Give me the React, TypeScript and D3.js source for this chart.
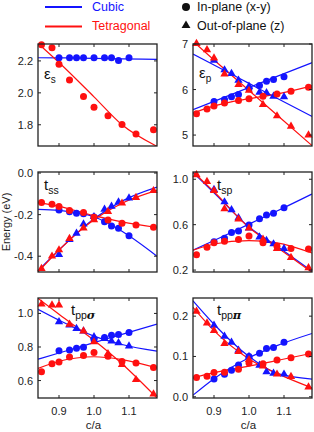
import React from "react";
import * as d3 from "d3";

// c/a values of the computed points
const X_CUBIC = [0.90, 0.93, 0.95, 0.97, 1.00, 1.03, 1.05, 1.07, 1.10];
const X_TETRA = [0.85, 0.88, 0.90, 0.93, 0.97, 1.00, 1.04, 1.08, 1.12, 1.17];
const X_FIT = [0.84, 0.90, 1.00, 1.08, 1.18];
const X_TICKS = [0.9, 1.0, 1.1];
const X_DOMAIN = [0.84, 1.18];

// eps_s
const ES_CUBIC_IN = [2.22, 2.22, 2.22, 2.22, 2.22, 2.22, 2.22, 2.202, 2.22];
const ES_TETRA_IN = [2.302, 2.283, 2.179, 2.081, 1.977, 1.91, 1.856, 1.802, 1.742, 1.769];
const ES_FIT_CUBIC_IN = [2.22, 2.219, 2.216, 2.213, 2.21];
const ES_FIT_TETRA_IN = [2.31, 2.19, 1.975, 1.8, 1.665];

// eps_p
const EP_CUBIC_IN = [5.74, 5.78, 5.84, 5.89, 6.02, 6.09, 6.18, 6.22, 6.28];
const EP_CUBIC_OUT = [6.64, 6.43, 6.35, 6.2, 6.07, 5.94, 5.93, 5.85, 5.84];
const EP_TETRA_IN = [5.47, 5.575, 5.64, 5.705, 5.76, 5.8, 5.85, 5.9, 5.96, 6.05];
const EP_TETRA_OUT = [7.01, 6.87, 6.69, 6.34, 6.11, 5.98, 5.67, 5.42, 5.19, 5.0];
const EP_FIT_CUBIC_IN = [5.56, 5.74, 6.045, 6.29, 6.59];
const EP_FIT_CUBIC_OUT = [6.78, 6.54, 6.135, 5.81, 5.41];
const EP_FIT_TETRA_IN = [5.48, 5.64, 5.8, 5.9, 6.08];
const EP_FIT_TETRA_OUT = [7.06, 6.65, 5.98, 5.44, 4.77];

// t_ss
const TSS_CUBIC_IN = [-0.178, -0.186, -0.194, -0.196, -0.212, -0.234, -0.255, -0.265, -0.302];
const TSS_CUBIC_OUT = [-0.392, -0.32, -0.29, -0.245, -0.21, -0.175, -0.16, -0.14, -0.12];
const TSS_TETRA_IN = [-0.142, -0.15, -0.161, -0.18, -0.19, -0.213, -0.226, -0.242, -0.25, -0.261];
const TSS_TETRA_OUT = [-0.46, -0.4, -0.37, -0.315, -0.265, -0.225, -0.185, -0.145, -0.118, -0.085];
const TSS_FIT_CUBIC_IN = [-0.175, -0.18, -0.21, -0.28, -0.4];
const TSS_FIT_CUBIC_OUT = [-0.47, -0.37, -0.22, -0.135, -0.068];
const TSS_FIT_TETRA_IN = [-0.142, -0.16, -0.205, -0.235, -0.262];
const TSS_FIT_TETRA_OUT = [-0.476, -0.37, -0.225, -0.145, -0.083];

// t_sp
const TSP_CUBIC_IN = [0.45, 0.481, 0.531, 0.545, 0.598, 0.652, 0.686, 0.7, 0.75];
const TSP_CUBIC_OUT = [0.91, 0.8, 0.73, 0.66, 0.57, 0.49, 0.46, 0.43, 0.39];
const TSP_TETRA_IN = [0.335, 0.4, 0.44, 0.455, 0.47, 0.5, 0.44, 0.41, 0.39, 0.385];
const TSP_TETRA_OUT = [1.04, 0.98, 0.9, 0.74, 0.65, 0.57, 0.47, 0.39, 0.31, 0.22];
const TSP_FIT_CUBIC_IN = [0.375, 0.46, 0.605, 0.72, 0.87];
const TSP_FIT_CUBIC_OUT = [1.06, 0.88, 0.58, 0.41, 0.19];
const TSP_FIT_TETRA_IN = [0.375, 0.43, 0.46, 0.44, 0.35];
const TSP_FIT_TETRA_OUT = [1.065, 0.89, 0.575, 0.4, 0.18];

// t_pp sigma
const TPS_CUBIC_IN = [0.777, 0.782, 0.793, 0.798, 0.843, 0.856, 0.87, 0.874, 0.886];
const TPS_CUBIC_OUT = [0.95, 0.93, 0.91, 0.895, 0.86, 0.85, 0.835, 0.825, 0.805];
const TPS_TETRA_IN = [0.652, 0.7, 0.71, 0.74, 0.75, 0.767, 0.745, 0.714, 0.705, 0.678];
const TPS_TETRA_OUT = [1.055, 1.05, 1.05, 0.935, 0.895, 0.83, 0.76, 0.695, 0.605, 0.52];
const TPS_FIT_CUBIC_IN = [0.727, 0.764, 0.826, 0.875, 0.937];
const TPS_FIT_CUBIC_OUT = [1.025, 0.96, 0.865, 0.815, 0.775];
const TPS_FIT_TETRA_IN = [0.672, 0.715, 0.742, 0.725, 0.675];
const TPS_FIT_TETRA_OUT = [1.09, 0.995, 0.84, 0.7, 0.496];

// t_pp pi
const TPP_CUBIC_IN = [0.044, 0.056, 0.066, 0.079, 0.1, 0.108, 0.12, 0.122, 0.135];
const TPP_CUBIC_OUT = [0.177, 0.15, 0.135, 0.115, 0.1, 0.078, 0.062, 0.058, 0.056];
const TPP_TETRA_IN = [0.048, 0.051, 0.06, 0.061, 0.068, 0.084, 0.082, 0.091, 0.097, 0.106];
const TPP_TETRA_OUT = [0.212, 0.183, 0.164, 0.132, 0.112, 0.092, 0.076, 0.056, 0.05, 0.024];
const TPP_FIT_CUBIC_IN = [0.004, 0.045, 0.097, 0.127, 0.157];
const TPP_FIT_CUBIC_OUT = [0.238, 0.18, 0.1, 0.058, 0.044];
const TPP_FIT_TETRA_IN = [0.047, 0.06, 0.076, 0.09, 0.108];
const TPP_FIT_TETRA_OUT = [0.222, 0.164, 0.094, 0.058, 0.022];

const BLUE = "#1414ff";
const RED = "#ff1010";
const FONT = "'Liberation Sans', Arial, sans-serif";

const COLS = [[38, 157], [193, 312]];
const ROWS = [[44, 146], [172, 272], [298, 398]];

const PANELS = [
  {
    id: "es", main: "ε", sub: "s", lx: 44, ly: 79, mainSize: 15, subSize: 10,
    yDomain: [1.667, 2.306], yTicks: [1.8, 2.0, 2.2], dec: 1,
    points: [
      { color: BLUE, shape: "c", xs: X_CUBIC, ys: ES_CUBIC_IN },
      { color: RED, shape: "c", xs: X_TETRA, ys: ES_TETRA_IN },
    ],
    fits: [{ color: BLUE, ys: ES_FIT_CUBIC_IN }, { color: RED, ys: ES_FIT_TETRA_IN }],
  },
  {
    id: "ep", main: "ε", sub: "p", lx: 199, ly: 78, mainSize: 15, subSize: 10,
    yDomain: [4.76, 7.0], yTicks: [5, 6, 7], dec: 0,
    points: [
      { color: BLUE, shape: "c", xs: X_CUBIC, ys: EP_CUBIC_IN },
      { color: BLUE, shape: "t", xs: X_CUBIC, ys: EP_CUBIC_OUT },
      { color: RED, shape: "c", xs: X_TETRA, ys: EP_TETRA_IN },
      { color: RED, shape: "t", xs: X_TETRA, ys: EP_TETRA_OUT },
    ],
    fits: [
      { color: BLUE, ys: EP_FIT_CUBIC_IN }, { color: BLUE, ys: EP_FIT_CUBIC_OUT },
      { color: RED, ys: EP_FIT_TETRA_IN }, { color: RED, ys: EP_FIT_TETRA_OUT },
    ],
  },
  {
    id: "tss", main: "t", sub: "ss", lx: 44, ly: 190, mainSize: 15, subSize: 10.5,
    yDomain: [-0.476, 0.005], yTicks: [0, -0.2, -0.4], dec: 1,
    points: [
      { color: BLUE, shape: "c", xs: X_CUBIC, ys: TSS_CUBIC_IN },
      { color: BLUE, shape: "t", xs: X_CUBIC, ys: TSS_CUBIC_OUT },
      { color: RED, shape: "c", xs: X_TETRA, ys: TSS_TETRA_IN },
      { color: RED, shape: "t", xs: X_TETRA, ys: TSS_TETRA_OUT },
    ],
    fits: [
      { color: BLUE, ys: TSS_FIT_CUBIC_IN }, { color: BLUE, ys: TSS_FIT_CUBIC_OUT },
      { color: RED, ys: TSS_FIT_TETRA_IN }, { color: RED, ys: TSS_FIT_TETRA_OUT },
    ],
  },
  {
    id: "tsp", main: "t", sub: "sp", lx: 217, ly: 190, mainSize: 15, subSize: 10.5,
    yDomain: [0.183, 1.064], yTicks: [0.2, 0.6, 1.0], dec: 1,
    points: [
      { color: BLUE, shape: "c", xs: X_CUBIC, ys: TSP_CUBIC_IN },
      { color: BLUE, shape: "t", xs: X_CUBIC, ys: TSP_CUBIC_OUT },
      { color: RED, shape: "c", xs: X_TETRA, ys: TSP_TETRA_IN },
      { color: RED, shape: "t", xs: X_TETRA, ys: TSP_TETRA_OUT },
    ],
    fits: [
      { color: BLUE, ys: TSP_FIT_CUBIC_IN }, { color: BLUE, ys: TSP_FIT_CUBIC_OUT },
      { color: RED, ys: TSP_FIT_TETRA_IN }, { color: RED, ys: TSP_FIT_TETRA_OUT },
    ],
  },
  {
    id: "tps", main: "t", sub: "pp", greek: "σ", lx: 71, ly: 315, mainSize: 15, subSize: 10.5,
    yDomain: [0.496, 1.092], yTicks: [0.6, 0.8, 1.0], dec: 1,
    points: [
      { color: BLUE, shape: "c", xs: X_CUBIC, ys: TPS_CUBIC_IN },
      { color: BLUE, shape: "t", xs: X_CUBIC, ys: TPS_CUBIC_OUT },
      { color: RED, shape: "c", xs: X_TETRA, ys: TPS_TETRA_IN },
      { color: RED, shape: "t", xs: X_TETRA, ys: TPS_TETRA_OUT },
    ],
    fits: [
      { color: BLUE, ys: TPS_FIT_CUBIC_IN }, { color: BLUE, ys: TPS_FIT_CUBIC_OUT },
      { color: RED, ys: TPS_FIT_TETRA_IN }, { color: RED, ys: TPS_FIT_TETRA_OUT },
    ],
  },
  {
    id: "tpp", main: "t", sub: "pp", greek: "π", lx: 217, ly: 315, mainSize: 15, subSize: 10.5,
    yDomain: [-0.003, 0.245], yTicks: [0, 0.1, 0.2], dec: 1,
    points: [
      { color: BLUE, shape: "c", xs: X_CUBIC, ys: TPP_CUBIC_IN },
      { color: BLUE, shape: "t", xs: X_CUBIC, ys: TPP_CUBIC_OUT },
      { color: RED, shape: "c", xs: X_TETRA, ys: TPP_TETRA_IN },
      { color: RED, shape: "t", xs: X_TETRA, ys: TPP_TETRA_OUT },
    ],
    fits: [
      { color: BLUE, ys: TPP_FIT_CUBIC_IN }, { color: BLUE, ys: TPP_FIT_CUBIC_OUT },
      { color: RED, ys: TPP_FIT_TETRA_IN }, { color: RED, ys: TPP_FIT_TETRA_OUT },
    ],
  },
];

const triPath = d3.symbol(d3.symbolTriangle, 30)() as string;
const triLegend = d3.symbol(d3.symbolTriangle, 34)() as string;

function Panel({ p, col, row }: any) {
  const [x0, x1] = COLS[col];
  const [y0, y1] = ROWS[row];
  const x = d3.scaleLinear().domain(X_DOMAIN).range([x0, x1]);
  const y = d3.scaleLinear().domain(p.yDomain).range([y1, y0]);
  const line = d3
    .line<number>()
    .x((_, i) => x(X_FIT[i]))
    .y((d) => y(d))
    .curve(d3.curveMonotoneX);
  const clipId = "clip-" + p.id;
  const tl = 3;
  const bottomRow = row === ROWS.length - 1;
  // blue first, red on top
  const order = [...p.points].sort((a: any, b: any) => (a.color === b.color ? 0 : a.color === BLUE ? -1 : 1));

  return (
    <g>
      <defs>
        <clipPath id={clipId}>
          <rect x={x0} y={y0} width={x1 - x0} height={y1 - y0} />
        </clipPath>
      </defs>
      <g clipPath={`url(#${clipId})`}>
        {p.fits.map((f: any, i: number) => (
          <path key={i} d={line(f.ys) as string} fill="none" stroke={f.color} strokeWidth={1.2} />
        ))}
      </g>
      {order.map((s: any, si: number) =>
        s.ys.map((v: number, i: number) =>
          s.shape === "c" ? (
            <circle key={si + "-" + i} cx={x(s.xs[i])} cy={y(v)} r={3.5} fill={s.color} />
          ) : (
            <path key={si + "-" + i} d={triPath} transform={`translate(${x(s.xs[i])},${y(v)})`} fill={s.color} />
          )
        )
      )}
      {/* frame and inward ticks */}
      <rect x={x0} y={y0} width={x1 - x0} height={y1 - y0} fill="none" stroke="#222" strokeWidth={1.3} />
      {X_TICKS.map((t) => (
        <g key={t} stroke="#222" strokeWidth={1}>
          <line x1={x(t)} x2={x(t)} y1={y1} y2={y1 - tl} />
          <line x1={x(t)} x2={x(t)} y1={y0} y2={y0 + tl} />
        </g>
      ))}
      {p.yTicks.map((t: number) => (
        <g key={t}>
          <line x1={x0} x2={x0 + tl} y1={y(t)} y2={y(t)} stroke="#222" />
          <line x1={x1} x2={x1 - tl} y1={y(t)} y2={y(t)} stroke="#222" />
          <text x={x0 - 5} y={y(t) + 4} textAnchor="end" fontSize={11} fill="#222" fontFamily={FONT}>
            {t.toFixed(p.dec)}
          </text>
        </g>
      ))}
      {bottomRow &&
        X_TICKS.map((t) => (
          <text key={t} x={x(t)} y={y1 + 17} textAnchor="middle" fontSize={11} fill="#222" fontFamily={FONT}>
            {t.toFixed(1)}
          </text>
        ))}
      {bottomRow && (
        <text x={(x0 + x1) / 2 - 4} y={429} textAnchor="middle" fontSize={11.5} fill="#222" fontFamily={FONT}>
          c/a
        </text>
      )}
      <text x={p.lx} y={p.ly} fontFamily={FONT} fill="#111">
        <tspan fontSize={p.mainSize}>{p.main}</tspan>
        <tspan fontSize={p.subSize} dy={4}>{p.sub}</tspan>
        {p.greek && (
          <tspan fontSize={p.subSize + 1} fontWeight="bold" fontStyle="italic" fontFamily="'DejaVu Serif', serif">
            {p.greek}
          </tspan>
        )}
      </text>
    </g>
  );
}

export default function App() {
  return (
    <svg width={314} height={432} style={{ position: "absolute", left: 0, top: 0, background: "#fff" }}>
      {/* legend */}
      <line x1={45} x2={82} y1={7} y2={7} stroke={BLUE} strokeWidth={2.2} />
      <text x={92} y={11} fontSize={12.5} fill={BLUE} fontFamily={FONT}>Cubic</text>
      <line x1={45} x2={82} y1={26.5} y2={26.5} stroke={RED} strokeWidth={2.2} />
      <text x={92} y={30} fontSize={12.5} fill={RED} fontFamily={FONT}>Tetragonal</text>
      <circle cx={186} cy={7} r={4} fill="#111" />
      <text x={197} y={11} fontSize={12.5} fill="#111" fontFamily={FONT}>In-plane (x-y)</text>
      <path d={triLegend} transform="translate(186,25.5)" fill="#111" />
      <text x={197} y={30} fontSize={12.5} fill="#111" fontFamily={FONT}>Out-of-plane (z)</text>

      <text transform="translate(10,222) rotate(-90)" textAnchor="middle" fontSize={11} fill="#222" fontFamily={FONT}>
        Energy (eV)
      </text>

      {PANELS.map((p, i) => (
        <Panel key={p.id} p={p} col={i % 2} row={Math.floor(i / 2)} />
      ))}
    </svg>
  );
}
